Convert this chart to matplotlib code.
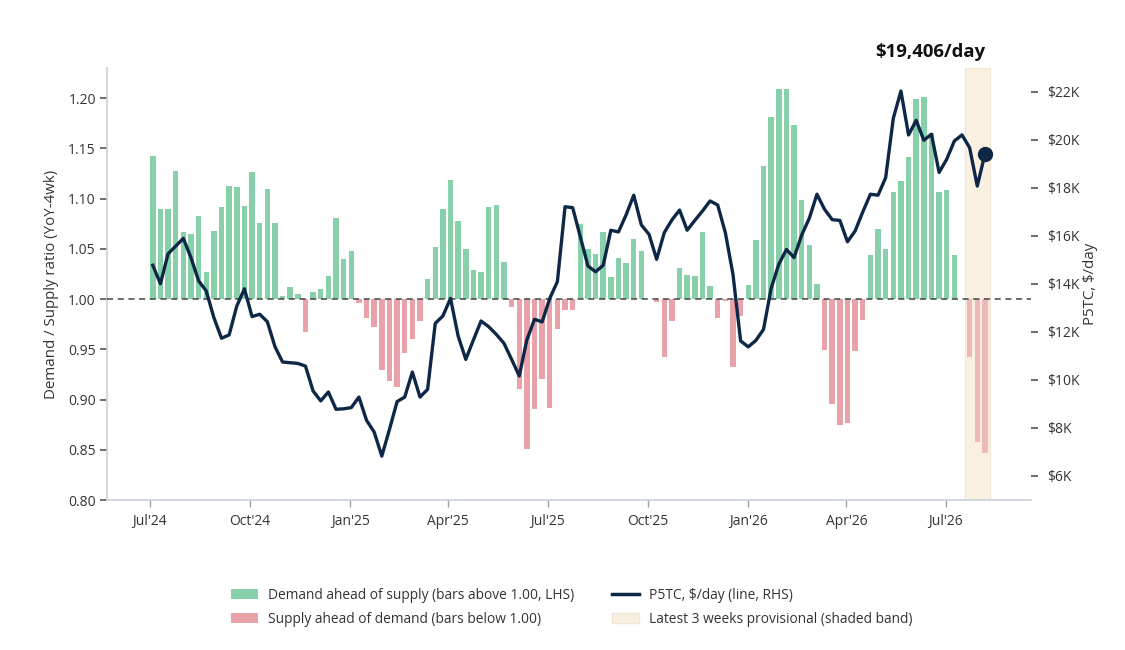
import matplotlib
matplotlib.use("Agg")
import matplotlib.pyplot as plt
import matplotlib.dates as mdates
from matplotlib.ticker import FuncFormatter
from matplotlib.patches import Patch
from matplotlib.lines import Line2D
import numpy as np
import pandas as pd

# ---------------- data ----------------
start_date = "2024-07-04"
n_weeks = 110

ratio = [
    1.142, 1.090, 1.090, 1.127, 1.067, 1.065, 1.083, 1.027, 1.068, 1.092,
    1.113, 1.112, 1.093, 1.126, 1.076, 1.110, 1.076, 1.003, 1.012, 1.005,
    0.967, 1.007, 1.010, 1.023, 1.081, 1.040, 1.048, 0.996, 0.981, 0.972,
    0.929, 0.918, 0.912, 0.946, 0.960, 0.978, 1.020, 1.052, 1.090, 1.119,
    1.078, 1.050, 1.029, 1.027, 1.092, 1.094, 1.037, 0.992, 0.910, 0.851,
    0.891, 0.920, 0.892, 0.970, 0.989, 0.989, 1.075, 1.050, 1.045, 1.067,
    1.022, 1.041, 1.036, 1.060, 1.048, 1.000, 0.997, 0.942, 0.978, 1.031,
    1.024, 1.023, 1.067, 1.013, 0.981, 0.998, 0.932, 0.983, 1.014, 1.059,
    1.132, 1.181, 1.209, 1.209, 1.173, 1.099, 1.054, 1.015, 0.949, 0.896,
    0.875, 0.877, 0.948, 0.979, 1.044, 1.070, 1.050, 1.107, 1.118, 1.141,
    1.199, 1.201, 1.165, 1.107, 1.109, 1.044, 1.000, 0.942, 0.858, 0.847,
]

p5tc = [
    14780, 14010, 15260, 15580, 15900, 15100, 14130, 13710, 12600, 11740,
    11880, 13080, 13800, 12640, 12740, 12430, 11390, 10750, 10720, 10690,
    10580, 9540, 9130, 9500, 8780, 8800, 8850, 9290, 8320, 7830,
    6830, 7940, 9100, 9290, 10330, 9290, 9610, 12360, 12670, 13400,
    11830, 10860, 11670, 12460, 12220, 11900, 11530, 10860, 10170, 11670,
    12530, 12420, 13400, 14100, 17220, 17180, 15970, 14750, 14510, 14780,
    16240, 16170, 16880, 17700, 16460, 16070, 15030, 16140, 16670, 17080,
    16240, 16650, 17040, 17460, 17290, 16140, 14400, 11630, 11380, 11650,
    12110, 13820, 14820, 15440, 15100, 16040, 16740, 17740, 17110, 16680,
    16650, 15760, 16210, 17000, 17740, 17700, 18430, 20900, 22040, 20210,
    20820, 19990, 20240, 18650, 19200, 19960, 20210, 19680, 18080, 19406,
]

provisional_weeks = 3

left_ticks = [0.80, 0.85, 0.90, 0.95, 1.00, 1.05, 1.10, 1.15, 1.20]
right_ticks = [6000, 8000, 10000, 12000, 14000, 16000, 18000, 20000, 22000]

labels = {
    "up": "Demand ahead of supply (bars above 1.00, LHS)",
    "down": "Supply ahead of demand (bars below 1.00)",
    "line": "P5TC, \\$/day (line, RHS)",
    "band": "Latest 3 weeks provisional (shaded band)",
}

# ---------------- style ----------------
GREEN = "#87D0A9"
RED = "#EAA2AA"
NAVY = "#0F2747"
BAND = "#FAF0E2"
SPINE = "#C9CFDA"
TXT = "#333333"

plt.rcParams["font.family"] = ["Open Sans", "DejaVu Sans"]
plt.rcParams["font.size"] = 10

dates = pd.date_range(start_date, periods=n_weeks, freq="7D")
ratio_arr = np.array(ratio)
p5_arr = np.array(p5tc)

fig = plt.figure(figsize=(11.25, 6.5), dpi=100)
ax = fig.add_axes([107 / 1125, 1 - 500 / 650, (1030.7 - 107) / 1125, (500 - 68) / 650])
ax2 = ax.twinx()

# shaded provisional band
band_start = dates[-provisional_weeks] - pd.Timedelta(days=4)
band_end = dates[-1] + pd.Timedelta(days=5)
ax.axvspan(band_start, band_end, color=BAND, zorder=0, lw=0.8, ec="#F3E6D2")

# bars
colors = np.array([GREEN if r >= 1 else RED for r in ratio_arr])
prov = np.zeros(n_weeks, dtype=bool)
prov[-provisional_weeks:] = True
width = pd.Timedelta(days=5)
ax.bar(dates[~prov], ratio_arr[~prov] - 1, bottom=1, width=width,
       color=colors[~prov], zorder=2, lw=0)
ax.bar(dates[prov], ratio_arr[prov] - 1, bottom=1, width=width,
       color=colors[prov], alpha=0.7, zorder=2, lw=0)

ax.axhline(1.0, color="#444444", lw=1.1, ls=(0, (4, 3)), zorder=3)

# line
ax2.plot(dates, p5_arr, color=NAVY, lw=2.4, zorder=4)
ax2.plot(dates[-1:], p5_arr[-1:], "o", color=NAVY, ms=10, zorder=5)

ax2.annotate(f"\\${p5_arr[-1]:,.0f}/day", xy=(dates[-1], 1.0), xycoords=("data", "axes fraction"),
             xytext=(0, 5), textcoords="offset points", ha="right", va="bottom",
             fontsize=13.3, fontweight="bold", color="#111111")

# axes limits
ax.set_xlim(dates[0] - pd.Timedelta(days=42), dates[-1] + pd.Timedelta(days=42))
ax.set_ylim(0.80, 1.23)
ax2.set_ylim(5000, 23000)

ax.set_yticks(left_ticks)
ax.yaxis.set_major_formatter(FuncFormatter(lambda v, p: f"{v:.2f}"))
ax2.set_yticks(right_ticks)
ax2.yaxis.set_major_formatter(FuncFormatter(lambda v, p: f"\\${v / 1000:.0f}K"))

ax.xaxis.set_major_locator(mdates.MonthLocator(bymonth=[1, 4, 7, 10]))
ax.xaxis.set_major_formatter(mdates.DateFormatter("%b'%y"))

for a in (ax, ax2):
    a.spines["top"].set_visible(False)
    a.spines["right"].set_visible(False)
ax2.spines["left"].set_visible(False)
ax2.spines["bottom"].set_visible(False)
ax.spines["left"].set_color(SPINE)
ax.spines["bottom"].set_color(SPINE)
ax.spines["left"].set_linewidth(1.2)
ax.spines["bottom"].set_linewidth(1.2)

ax.tick_params(axis="y", colors="#555555", labelcolor=TXT, length=5, width=1.2, pad=3, labelsize=10)
ax.tick_params(axis="x", colors="#9AA3B2", labelcolor=TXT, length=5, width=1, pad=5, labelsize=10)
ax2.tick_params(axis="y", colors="#555555", labelcolor=TXT, length=5, width=1.2, pad=7, labelsize=10)

ax.set_ylabel("Demand / Supply ratio (YoY-4wk)", color=TXT, fontsize=10.8, labelpad=7)
ax2.set_ylabel("P5TC, \\$/day", color=TXT, fontsize=10.8, labelpad=2)

# legend
handles = [
    Patch(facecolor=GREEN, edgecolor="none"),
    Patch(facecolor=RED, edgecolor="none"),
    Line2D([0], [0], color=NAVY, lw=2.5),
    Patch(facecolor=BAND, edgecolor="#F0E6D8"),
]
fig.legend(handles, [labels["up"], labels["down"], labels["line"], labels["band"]],
           ncol=2, loc="upper left", bbox_to_anchor=(231 / 1125, 1 - 588 / 650),
           frameon=False, fontsize=9.9, handlelength=1.95, handleheight=0.75,
           handletextpad=0.72, columnspacing=2.8, labelspacing=0.62,
           borderpad=0, borderaxespad=0, labelcolor=TXT)

fig.savefig("out.png", dpi=100, facecolor="white")
